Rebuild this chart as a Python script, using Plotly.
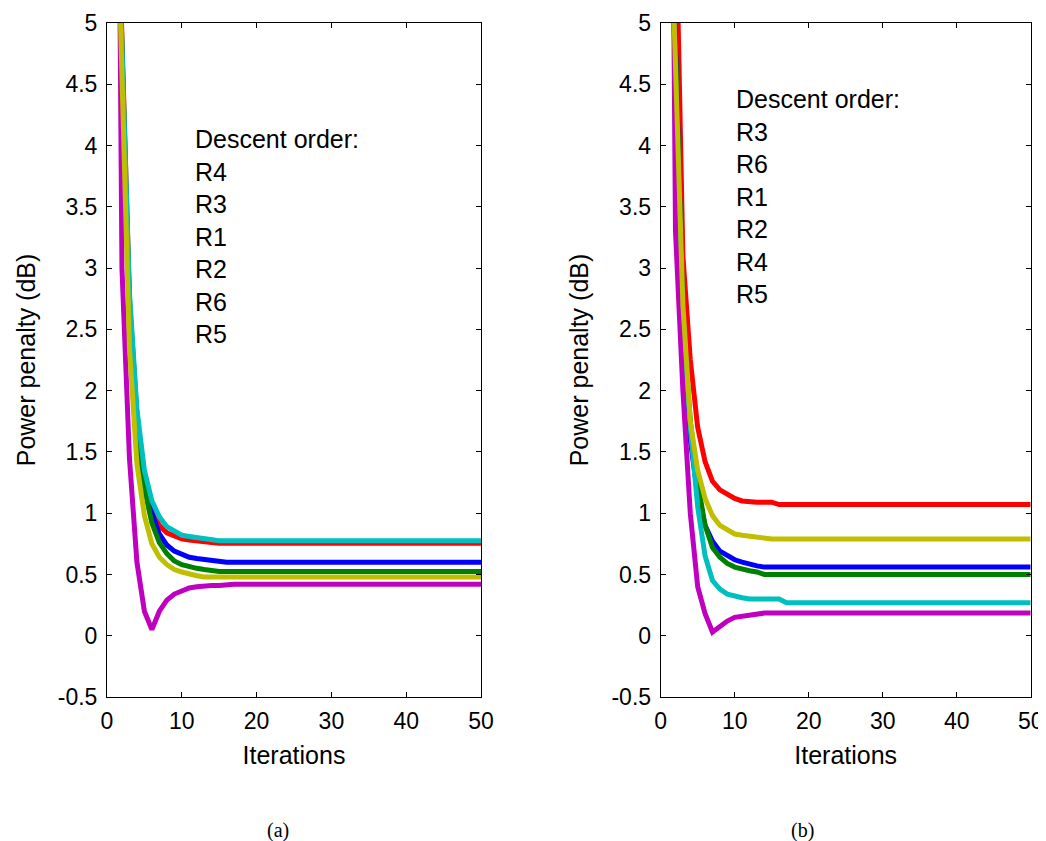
import plotly.graph_objects as go

# ---------------- data ----------------
ITER = list(range(1, 51))

Y_TICKS = [-0.5, 0, 0.5, 1, 1.5, 2, 2.5, 3, 3.5, 4, 4.5, 5]
Y_TICK_TEXT = ["-0.5", "0", "0.5", "1", "1.5", "2", "2.5", "3", "3.5", "4", "4.5", "5"]
X_TICKS = [0, 10, 20, 30, 40, 50]
X_TICK_TEXT = ["0", "10", "20", "30", "40", "50"]

ORDER_A = ["R4", "R3", "R1", "R2", "R6", "R5"]
ORDER_B = ["R3", "R6", "R1", "R2", "R4", "R5"]

# panel (a)
red_a = [7.0, 4.7, 2.75, 1.8, 1.28, 1.02, 0.9, 0.84, 0.81, 0.79,
         0.78, 0.77, 0.77, 0.76, 0.755, 0.755, 0.755, 0.755, 0.755, 0.755,
         0.755, 0.755, 0.755, 0.755, 0.755, 0.755, 0.755, 0.755, 0.755, 0.755,
         0.755, 0.755, 0.755, 0.755, 0.755, 0.755, 0.755, 0.755, 0.755, 0.755,
         0.755, 0.755, 0.755, 0.755, 0.755, 0.755, 0.755, 0.755, 0.755, 0.755]
blue_a = [7.0, 4.6, 2.7, 1.75, 1.25, 1.0, 0.83, 0.74, 0.69, 0.66,
          0.64, 0.63, 0.62, 0.61, 0.6, 0.6, 0.6, 0.6, 0.6, 0.6,
          0.6, 0.6, 0.6, 0.6, 0.6, 0.6, 0.6, 0.6, 0.6, 0.6,
          0.6, 0.6, 0.6, 0.6, 0.6, 0.6, 0.6, 0.6, 0.6, 0.6,
          0.6, 0.6, 0.6, 0.6, 0.6, 0.6, 0.6, 0.6, 0.6, 0.6]
green_a = [7.0, 4.6, 2.6, 1.7, 1.2, 0.92, 0.76, 0.67, 0.61, 0.58,
           0.56, 0.55, 0.54, 0.53, 0.525, 0.525, 0.525, 0.525, 0.525, 0.525,
           0.525, 0.525, 0.525, 0.525, 0.525, 0.525, 0.525, 0.525, 0.525, 0.525,
           0.525, 0.525, 0.525, 0.525, 0.525, 0.525, 0.525, 0.525, 0.525, 0.525,
           0.525, 0.525, 0.525, 0.525, 0.525, 0.525, 0.525, 0.525, 0.525, 0.525]
cyan_a = [6.8, 4.8, 2.8, 1.85, 1.35, 1.1, 0.97, 0.89, 0.85, 0.82,
          0.81, 0.8, 0.79, 0.79, 0.775, 0.775, 0.775, 0.775, 0.775, 0.775,
          0.775, 0.775, 0.775, 0.775, 0.775, 0.775, 0.775, 0.775, 0.775, 0.775,
          0.775, 0.775, 0.775, 0.775, 0.775, 0.775, 0.775, 0.775, 0.775, 0.775,
          0.775, 0.775, 0.775, 0.775, 0.775, 0.775, 0.775, 0.775, 0.775, 0.775]
magenta_a = [11.0, 3.0, 1.45, 0.6, 0.2, 0.05, 0.2, 0.29, 0.34, 0.37,
             0.39, 0.4, 0.41, 0.41, 0.41, 0.42, 0.42, 0.42, 0.42, 0.42,
             0.42, 0.42, 0.42, 0.42, 0.42, 0.42, 0.42, 0.42, 0.42, 0.42,
             0.42, 0.42, 0.42, 0.42, 0.42, 0.42, 0.42, 0.42, 0.42, 0.42,
             0.42, 0.42, 0.42, 0.42, 0.42, 0.42, 0.42, 0.42, 0.42, 0.42]
yellow_a = [6.8, 4.6, 2.35, 1.4, 0.98, 0.75, 0.64, 0.58, 0.54, 0.52,
            0.5, 0.49, 0.48, 0.48, 0.48, 0.48, 0.48, 0.48, 0.48, 0.48,
            0.48, 0.48, 0.48, 0.48, 0.48, 0.48, 0.48, 0.48, 0.48, 0.48,
            0.48, 0.48, 0.48, 0.48, 0.48, 0.48, 0.48, 0.48, 0.48, 0.48,
            0.48, 0.48, 0.48, 0.48, 0.48, 0.48, 0.48, 0.48, 0.48, 0.48]

# panel (b)
red_b = [9.0, 6.2, 3.1, 2.25, 1.7, 1.42, 1.26, 1.19, 1.15, 1.12,
         1.1, 1.09, 1.09, 1.09, 1.09, 1.07, 1.07, 1.07, 1.07, 1.07,
         1.07, 1.07, 1.07, 1.07, 1.07, 1.07, 1.07, 1.07, 1.07, 1.07,
         1.07, 1.07, 1.07, 1.07, 1.07, 1.07, 1.07, 1.07, 1.07, 1.07,
         1.07, 1.07, 1.07, 1.07, 1.07, 1.07, 1.07, 1.07, 1.07, 1.07]
blue_b = [7.0, 4.7, 2.6, 1.6, 1.15, 0.9, 0.77, 0.69, 0.65, 0.62,
          0.6, 0.58, 0.57, 0.56, 0.56, 0.56, 0.56, 0.56, 0.56, 0.56,
          0.56, 0.56, 0.56, 0.56, 0.56, 0.56, 0.56, 0.56, 0.56, 0.56,
          0.56, 0.56, 0.56, 0.56, 0.56, 0.56, 0.56, 0.56, 0.56, 0.56,
          0.56, 0.56, 0.56, 0.56, 0.56, 0.56, 0.56, 0.56, 0.56, 0.56]
green_b = [7.0, 4.7, 2.6, 1.75, 1.25, 0.9, 0.72, 0.64, 0.59, 0.56,
           0.54, 0.53, 0.52, 0.5, 0.5, 0.5, 0.5, 0.5, 0.5, 0.5,
           0.5, 0.5, 0.5, 0.5, 0.5, 0.5, 0.5, 0.5, 0.5, 0.5,
           0.5, 0.5, 0.5, 0.5, 0.5, 0.5, 0.5, 0.5, 0.5, 0.5,
           0.5, 0.5, 0.5, 0.5, 0.5, 0.5, 0.5, 0.5, 0.5, 0.5]
cyan_b = [7.0, 4.5, 2.5, 1.7, 1.05, 0.65, 0.45, 0.38, 0.34, 0.32,
          0.31, 0.3, 0.3, 0.3, 0.3, 0.3, 0.27, 0.27, 0.27, 0.27,
          0.27, 0.27, 0.27, 0.27, 0.27, 0.27, 0.27, 0.27, 0.27, 0.27,
          0.27, 0.27, 0.27, 0.27, 0.27, 0.27, 0.27, 0.27, 0.27, 0.27,
          0.27, 0.27, 0.27, 0.27, 0.27, 0.27, 0.27, 0.27, 0.27, 0.27]
magenta_b = [11.0, 3.3, 2.0, 1.0, 0.4, 0.18, 0.03, 0.08, 0.12, 0.15,
             0.16, 0.17, 0.185, 0.185, 0.185, 0.185, 0.185, 0.185, 0.185, 0.185,
             0.185, 0.185, 0.185, 0.185, 0.185, 0.185, 0.185, 0.185, 0.185, 0.185,
             0.185, 0.185, 0.185, 0.185, 0.185, 0.185, 0.185, 0.185, 0.185, 0.185,
             0.185, 0.185, 0.185, 0.185, 0.185, 0.185, 0.185, 0.185, 0.185, 0.185]
yellow_b = [6.6, 4.8, 2.7, 1.75, 1.35, 1.12, 0.98, 0.9, 0.86, 0.83,
            0.82, 0.81, 0.81, 0.79, 0.79, 0.79, 0.79, 0.79, 0.79, 0.79,
            0.79, 0.79, 0.79, 0.79, 0.79, 0.79, 0.79, 0.79, 0.79, 0.79,
            0.79, 0.79, 0.79, 0.79, 0.79, 0.79, 0.79, 0.79, 0.79, 0.79,
            0.79, 0.79, 0.79, 0.79, 0.79, 0.79, 0.79, 0.79, 0.79, 0.79]

# ---------------- styling ----------------
COLORS = {"red": "#FF0000", "blue": "#0000FF", "green": "#008000",
          "cyan": "#00BFBF", "magenta": "#BF00BF", "yellow": "#BFBF00"}
LW = 5
SANS = "Liberation Sans, Arial, sans-serif"
SERIF = "Liberation Serif, Times New Roman, serif"

series_a = [("red", red_a), ("blue", blue_a), ("green", green_a),
            ("cyan", cyan_a), ("magenta", magenta_a), ("yellow", yellow_a)]
series_b = [("red", red_b), ("blue", blue_b), ("green", green_b),
            ("cyan", cyan_b), ("magenta", magenta_b), ("yellow", yellow_b)]

fig = go.Figure()
for name, vals in series_a:
    fig.add_trace(go.Scatter(x=ITER[:len(vals)], y=vals, mode="lines",
                             line=dict(color=COLORS[name], width=LW),
                             xaxis="x", yaxis="y", showlegend=False))
for name, vals in series_b:
    fig.add_trace(go.Scatter(x=ITER[:len(vals)], y=vals, mode="lines",
                             line=dict(color=COLORS[name], width=LW),
                             xaxis="x2", yaxis="y2", showlegend=False))

# the page's body has an 8px margin, so the figure is placed 8px in
OFF = 8
W, H = 1046 - OFF, 841 - OFF


def px(x):
    return (x - OFF) / W


def py(y):
    return 1 - (y - OFF) / H


ydom = [py(697), py(23)]
xdom_a = [px(107), px(481)]
xdom_b = [px(660.7), px(1030.7)]

common_x = dict(range=[0, 50], tickvals=X_TICKS, ticktext=X_TICK_TEXT,
                showgrid=False, zeroline=False, showline=True, linecolor="black",
                linewidth=1, mirror="allticks", ticks="inside", ticklen=5,
                tickcolor="black", tickfont=dict(family=SANS, size=23, color="black"),
                ticklabelstandoff=3,
                title=dict(text="Iterations", font=dict(family=SANS, size=25, color="black"),
                           standoff=13),
                automargin=False)
common_y = dict(range=[-0.5, 5], tickvals=Y_TICKS, ticktext=Y_TICK_TEXT,
                showgrid=False, zeroline=False, showline=True, linecolor="black",
                linewidth=1, mirror="allticks", ticks="inside", ticklen=5,
                tickcolor="black", tickfont=dict(family=SANS, size=23, color="black"),
                ticklabelstandoff=4,
                title=dict(text="Power penalty (dB)", font=dict(family=SANS, size=25, color="black"),
                           standoff=15),
                automargin=False)

fig.update_layout(
    width=W, height=H,
    margin=dict(l=0, r=0, t=0, b=0),
    paper_bgcolor="white", plot_bgcolor="white",
    xaxis=dict(domain=xdom_a, anchor="y", **common_x),
    yaxis=dict(domain=ydom, anchor="x", **common_y),
    xaxis2=dict(domain=xdom_b, anchor="y2", **common_x),
    yaxis2=dict(domain=ydom, anchor="x2", **common_y),
)

annots = [
    dict(text="<br>".join(["Descent order:"] + ORDER_A), x=px(193), y=py(236),
         xref="paper", yref="paper", xanchor="left", yanchor="middle", align="left",
         showarrow=False, font=dict(family=SANS, size=25, color="black")),
    dict(text="<br>".join(["Descent order:"] + ORDER_B), x=px(734), y=py(196),
         xref="paper", yref="paper", xanchor="left", yanchor="middle", align="left",
         showarrow=False, font=dict(family=SANS, size=25, color="black")),
    dict(text="(a)", x=px(278), y=py(830), xref="paper", yref="paper",
         xanchor="center", yanchor="middle", showarrow=False,
         font=dict(family=SERIF, size=20, color="black")),
    dict(text="(b)", x=px(802), y=py(830), xref="paper", yref="paper",
         xanchor="center", yanchor="middle", showarrow=False,
         font=dict(family=SERIF, size=20, color="black")),
]
fig.update_layout(annotations=annots)

fig.write_html("out.html")
